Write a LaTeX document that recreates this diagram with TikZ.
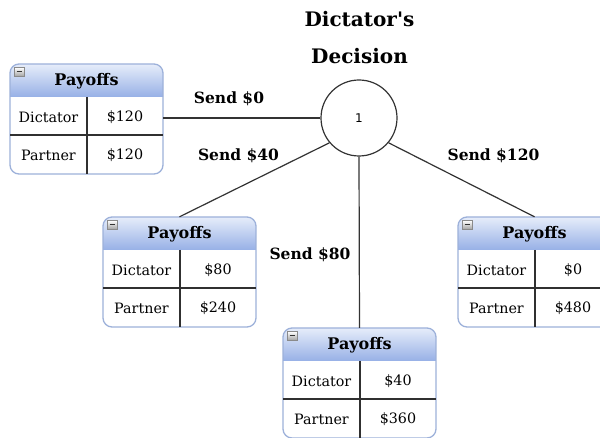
\documentclass[tikz,border=0pt]{standalone}
\usepackage{fontspec}
\setmainfont{DejaVu Serif}
\newfontfamily\circlefont{DejaVu Sans}
\definecolor{hdrtop}{HTML}{E6EDFA}
\definecolor{hdrbot}{HTML}{97B0E6}
\definecolor{edgeblue}{HTML}{9DB1DA}
\definecolor{gridgray}{HTML}{303030}
\definecolor{icongray}{HTML}{8A8A8A}
\tikzset{
  boxedge/.style={draw=edgeblue, line width=1.3pt},
  gridline/.style={draw=gridgray, line width=1.2pt},
  hdrtext/.style={font=\fontsize{16}{19}\selectfont\bfseries, inner sep=0pt},
  celltext/.style={font=\fontsize{14.3}{17}\selectfont, inner sep=0pt},
  choice/.style={font=\fontsize{15.5}{18}\selectfont\bfseries, inner sep=0pt},
  branch/.style={draw=black!80, line width=1.2pt},
  shell/.style={minimum width=153pt, minimum height=110pt, inner sep=0pt},
}
% #1 name, #2 left, #3 top, #4 dictator payoff, #5 partner payoff
\newcommand\payoffbox[5]{%
  \begin{scope}[shift={(#2,#3)}]
    \begin{scope}
      \clip[rounded corners=9] (0,0) rectangle (153,110);
      \fill[white] (0,0) rectangle (153,110);
      \shade[top color=hdrtop, bottom color=hdrbot] (0,0) rectangle (153,33);
    \end{scope}
    \draw[boxedge, rounded corners=9] (0,0) rectangle (153,110);
    \node[shell] (#1) at (76.5,55) {};
    \draw[gridline] (0,71) -- (153,71);
    \draw[gridline] (77,33) -- (77,110);
    % collapse button
    \shade[top color=white, bottom color=black!35, draw=icongray, line width=0.6pt]
      (4.5,3.5) rectangle (14,12);
    \draw[black!80, line width=1.3pt] (6.5,7.75) -- (12,7.75);
    \node[hdrtext] (#1-title) at (76.5,17) {Payoffs};
    \node[celltext] (#1-d) at (38.5,53) {Dictator};
    \node[celltext] (#1-dv) at (115,53) {#4};
    \node[celltext] (#1-p) at (38.5,91) {Partner};
    \node[celltext] (#1-pv) at (115,91) {#5};
  \end{scope}}
\begin{document}
\begin{tikzpicture}[x=1pt, y=-1pt]
  \useasboundingbox (0,0) rectangle (600,438);
  \clip (0,0) rectangle (600,438);
  \fill[white] (0,0) rectangle (600,438);

  % heading
  \node[font=\fontsize{20}{37}\selectfont\bfseries, align=center, inner sep=0pt]
    (title) at (359.5,38) {Dictator\textquotesingle s\\Decision};

  % decision node
  \node[circle, draw=black!80, line width=1.2pt, minimum size=76pt, inner sep=0pt,
        font=\circlefont\fontsize{12}{14}\selectfont] (dec) at (359,118) {1};

  % outcomes
  \payoffbox{p0}{10}{64}{\$120}{\$120}
  \payoffbox{p40}{103}{217}{\$80}{\$240}
  \payoffbox{p80}{283}{328}{\$40}{\$360}
  \payoffbox{p120}{458}{217}{\$0}{\$480}

  % branches
  \draw[branch] (dec.west) -- (dec.west -| p0.east);
  \draw[branch] (dec.-140) -- (p40.north);
  \draw[branch] (dec.south) -- (p80.north);
  \draw[branch] (dec.-40) -- (p120.north);

  \node[choice] (s0) at (229,99) {Send \$0};
  \node[choice] (s40) at (238.5,156) {Send \$40};
  \node[choice] (s80) at (310,255) {Send \$80};
  \node[choice] (s120) at (493.5,156) {Send \$120};
\end{tikzpicture}
\end{document}
